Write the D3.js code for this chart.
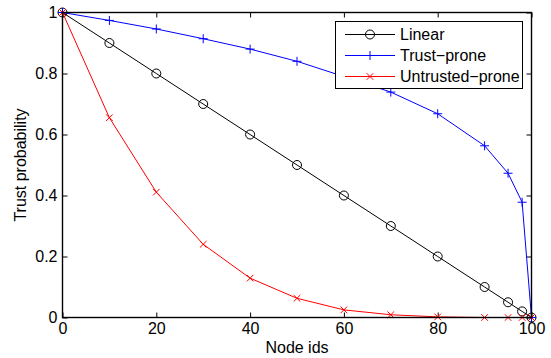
<!DOCTYPE html>
<html>
<head>
<meta charset="utf-8">
<script src="https://cdn.jsdelivr.net/npm/d3@7"></script>
<style>
  body { margin: 0; background: #fff; }
  svg { font-family: "Liberation Sans", Arial, sans-serif; }
</style>
</head>
<body>
<div id="chart"></div>
<script>
// node ids sampled on the x axis
var nodeIds = [0, 10, 20, 30, 40, 50, 60, 70, 80, 90, 95, 98, 100];
var linear = [1, 0.9, 0.8, 0.7, 0.6, 0.5, 0.4, 0.3, 0.2, 0.1, 0.05, 0.02, 0];
var trustProne = [1, 0.974, 0.946, 0.914, 0.88, 0.84, 0.79, 0.739, 0.668, 0.563, 0.473, 0.378, 0];
var untrustedProne = [1, 0.655, 0.411, 0.24, 0.129, 0.063, 0.025, 0.009, 0.002, 0, 0, 0, 0];
var xTicks = [0, 20, 40, 60, 80, 100];
var yTicks = [0, 0.2, 0.4, 0.6, 0.8, 1];

var W = 551, H = 358;
var padL = 62.5, padR = 531.5, padT = 12.5, padB = 317.5;
var fontSize = 16;

var svg = d3.select("#chart").append("svg")
	.attr("width", W)
	.attr("height", H);

var x = d3.scaleLinear().domain([0, 100]).range([padL, padR]);
var y = d3.scaleLinear().domain([0, 1]).range([padB, padT]);

// series definitions
var series = [
	{ name: "Linear", values: linear, color: "#000000", marker: "circle" },
	{ name: "Trust\u2212prone", values: trustProne, color: "#0000ff", marker: "plus" },
	{ name: "Untrusted\u2212prone", values: untrustedProne, color: "#ff0000", marker: "cross" }
];

function drawMarker(g, type, color) {
	if (type == "circle") {
		g.append("circle").attr("r", 4.5).attr("fill", "none").attr("stroke", color).attr("stroke-width", 1);
	} else if (type == "plus") {
		g.append("path").attr("d", "M-4.5,0H4.5M0,-4.5V4.5").attr("stroke", color).attr("stroke-width", 1);
	} else {
		g.append("path").attr("d", "M-3.3,-3.3L3.3,3.3M-3.3,3.3L3.3,-3.3").attr("stroke", color).attr("stroke-width", 1);
	}
}

var line = d3.line()
	.x(function(d) { return x(d[0]); })
	.y(function(d) { return y(d[1]); });

// axes, ticks inward on all four sides
var tickLen = 5;
var axisBottom = svg.append("g").attr("transform", "translate(0," + padB + ")")
	.call(d3.axisBottom(x).tickValues(xTicks).tickSize(-tickLen).tickFormat(d3.format("d")));
var axisTop = svg.append("g").attr("transform", "translate(0," + padT + ")")
	.call(d3.axisTop(x).tickValues(xTicks).tickSize(-tickLen).tickFormat(""));
var axisLeft = svg.append("g").attr("transform", "translate(" + padL + ",0)")
	.call(d3.axisLeft(y).tickValues(yTicks).tickSize(-tickLen).tickPadding(5).tickFormat(function(d) { return d3.format("")(d); }));
var axisRight = svg.append("g").attr("transform", "translate(" + padR + ",0)")
	.call(d3.axisRight(y).tickValues(yTicks).tickSize(-tickLen).tickFormat(""));

[axisBottom, axisTop, axisLeft, axisRight].forEach(function(a) {
	a.select(".domain").remove();
	a.selectAll(".tick line").attr("stroke", "#000").attr("stroke-width", 1);
	a.selectAll("text").attr("font-size", fontSize).attr("fill", "#000").attr("font-family", "Liberation Sans, Arial, sans-serif");
});
axisBottom.selectAll(".tick text").attr("y", 5.5);

series.forEach(function(s) {
	var pts = nodeIds.map(function(id, i) { return [id, s.values[i]]; });
	svg.append("path")
		.attr("d", line(pts))
		.attr("fill", "none")
		.attr("stroke", s.color)
		.attr("stroke-width", 1);
	pts.forEach(function(p) {
		var g = svg.append("g").attr("transform", "translate(" + x(p[0]) + "," + y(p[1]) + ")");
		drawMarker(g, s.marker, s.color);
	});
});

svg.append("rect")
	.attr("x", padL).attr("y", padT)
	.attr("width", padR - padL).attr("height", padB - padT)
	.attr("fill", "none").attr("stroke", "#000").attr("stroke-width", 1.4);

// axis titles
svg.append("text")
	.attr("x", (padL + padR) / 2).attr("y", 352.5)
	.attr("text-anchor", "middle")
	.attr("font-size", fontSize)
	.text("Node ids");
svg.append("text")
	.attr("transform", "translate(26," + (padT + padB) / 2 + ") rotate(-90)")
	.attr("text-anchor", "middle")
	.attr("font-size", fontSize)
	.text("Trust probability");

// legend
var lg = svg.append("g").attr("class", "legend");
lg.append("rect")
	.attr("x", 335.5).attr("y", 21.5)
	.attr("width", 187).attr("height", 67)
	.attr("fill", "#fff").attr("stroke", "#000").attr("stroke-width", 1);
series.forEach(function(s, i) {
	var ly = 34.5 + i * 21;
	lg.append("line")
		.attr("x1", 345).attr("x2", 395).attr("y1", ly).attr("y2", ly)
		.attr("stroke", s.color).attr("stroke-width", 1);
	drawMarker(lg.append("g").attr("transform", "translate(370," + ly + ")"), s.marker, s.color);
	lg.append("text")
		.attr("x", 400).attr("y", ly).attr("dy", "0.35em")
		.attr("font-size", fontSize)
		.text(s.name);
});
</script>
</body>
</html>
